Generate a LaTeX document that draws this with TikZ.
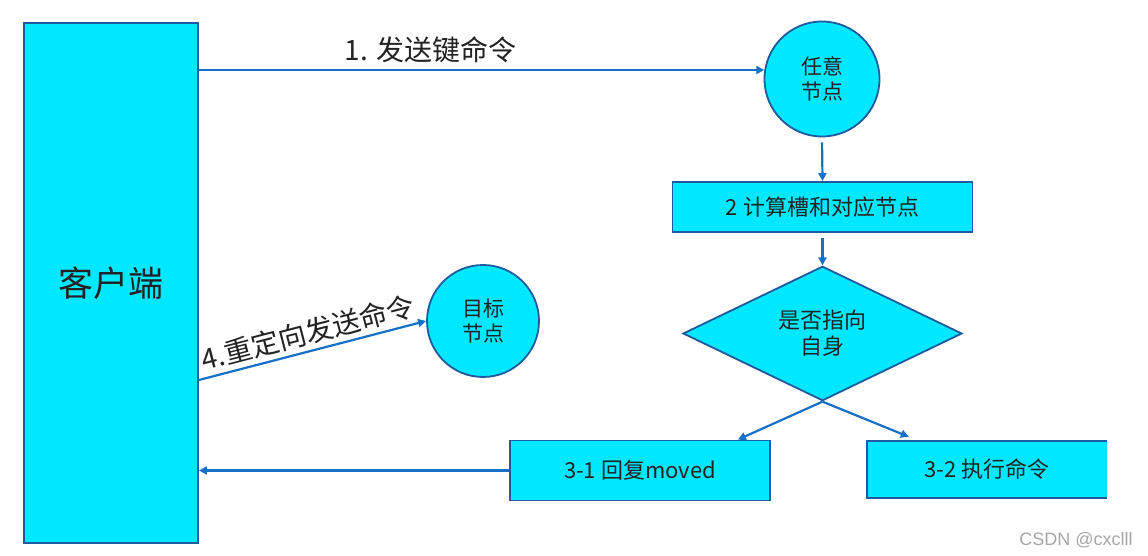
\documentclass[tikz,border=0pt]{standalone}
\usepackage{fontspec}
\setmainfont{Noto Sans CJK SC}
\newfontfamily\wmfont{Liberation Sans}
\usetikzlibrary{shapes.geometric,arrows.meta}
\definecolor{fillc}{RGB}{0,232,255}
\definecolor{borderc}{RGB}{30,90,160}
\definecolor{arrowc}{RGB}{22,112,200}
\definecolor{txtc}{RGB}{34,34,34}
\begin{document}
\begin{tikzpicture}[x=1pt,y=-1pt,
  shapebase/.style={fill=fillc,draw=borderc,line width=1.8pt,text=txtc,inner sep=0pt,align=center},
  boxnode/.style={shapebase,rectangle},
  circnode/.style={shapebase,circle},
  dianode/.style={shapebase,diamond},
  conn/.style={draw=arrowc,line width=2.2pt,-{Triangle[length=8pt,width=8pt]}},
  lbl/.style={text=txtc,inner sep=2pt},
  fs/.style={font=\fontsize{#1}{#1}\selectfont}
]
\useasboundingbox (0,0) rectangle (1148,556);

\node[boxnode,minimum width=174pt,minimum height=520pt,fs=35] (client) at (111,283) {客户端};
\node[circnode,minimum size=115pt,fs=21] (any) at (822,79) {任意\\[4pt]节点};
\node[boxnode,minimum width=300pt,minimum height=50pt,fs=22] (calc) at (822.5,207) {2 计算槽和对应节点};
\node[dianode,minimum width=279pt,minimum height=87pt,fs=22] (self) at (822.5,333.5) {是否指向\\[4pt]自身};
\node[boxnode,minimum width=260pt,minimum height=60pt,fs=22] (moved) at (640,470.5) {3-1 回复moved};
\node[rectangle,fill=fillc,inner sep=0pt,minimum width=240pt,minimum height=57pt,text=txtc,fs=22] (exec) at (987,469.5) {3-2 执行命令};
\draw[draw=borderc,line width=1.8pt] (exec.north east) -- (exec.north west) -- (exec.south west) -- (exec.south east);
\node[circnode,minimum size=112pt,fs=21] (target) at (483,321) {目标\\[4pt]节点};

\coordinate (c1) at ([yshift=213pt]client.east);
\draw[conn] (c1) -- node[lbl,above=4pt,pos=0.41,fs=28] {1. 发送键命令} (c1 -| any.171);
\draw[conn,shorten <=5pt] (any.south) -- (calc.north);
\draw[conn,shorten <=5pt] (calc.south) -- (self.north);
\draw[conn] (self.south) -- ([xshift=-33pt]moved.north east);
\draw[conn] (self.south) -- ([xshift=42pt,yshift=4pt]exec.north west);
\coordinate (c3) at ([yshift=-187.5pt]client.east);
\draw[conn] (moved.west) -- (c3);
\coordinate (c4) at ([yshift=-97pt]client.east);
\draw[conn] (c4) -- node[lbl,above=2pt,sloped,fs=28] {4.重定向发送命令} (target.west);

\node[text=gray!70,fs=18,inner sep=0pt] (wm) at (1076,540) {\wmfont CSDN @cxclll};
\end{tikzpicture}
\end{document}
